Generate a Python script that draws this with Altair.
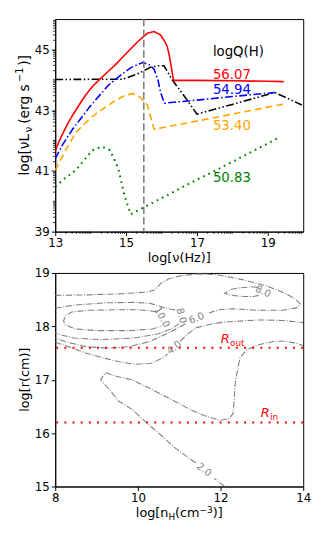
import altair as alt
import pandas as pd
import numpy as np

FONT = "DejaVu Sans"

# ---------------- top panel: SEDs ----------------
red_x = [13.0, 13.1, 13.2, 13.35, 13.5, 13.7, 13.86, 14.05, 14.27, 14.5, 14.7, 14.9, 15.1, 15.3, 15.42, 15.6, 15.79, 15.97, 16.1, 16.16, 16.22, 16.28, 16.34, 17.0, 18.0, 19.0, 19.45]
red_y = [41.65, 41.95, 42.2, 42.55, 42.85, 43.22, 43.5, 43.78, 44.03, 44.28, 44.5, 44.74, 44.98, 45.22, 45.35, 45.53, 45.59, 45.48, 45.25, 45.1, 44.8, 44.4, 43.98, 43.98, 43.97, 43.95, 43.94]

blue_x = [13.0, 13.2, 13.49, 14.0, 14.5, 14.9, 15.15, 15.47, 15.65, 15.79, 15.9, 15.97, 16.08, 17.0, 18.0, 19.2]
blue_y = [41.4, 41.85, 42.37, 43.15, 43.82, 44.2, 44.41, 44.57, 44.5, 44.35, 44.0, 43.6, 43.23, 43.33, 43.45, 43.58]

black_x = [13.0, 14.9, 15.3, 15.7, 15.88, 16.07, 16.3, 16.62, 17.0, 18.0, 19.2, 19.96]
black_y = [44.01, 44.02, 44.18, 44.42, 44.46, 44.46, 44.0, 43.5, 42.87, 43.19, 43.58, 43.17]

orange_x = [13.0, 13.3, 13.58, 14.0, 14.5, 14.9, 15.19, 15.4, 15.6, 15.79, 17.0, 18.0, 19.45]
orange_y = [41.02, 41.7, 42.26, 42.75, 43.17, 43.45, 43.55, 43.42, 43.17, 42.37, 42.64, 42.87, 43.2]

green_x = [13.0, 13.3, 13.58, 14.04, 14.32, 14.55, 14.78, 14.96, 15.13, 15.42, 16.0, 16.8, 17.5, 18.5, 19.29]
green_y = [40.48, 40.78, 41.02, 41.67, 41.8, 41.68, 41.08, 40.16, 39.57, 39.75, 40.1, 40.59, 41.0, 41.6, 42.08]

vline_x = [15.5]

q_label_text = ["56.07", "54.94", "53.40", "50.83"]
q_label_color = ["red", "blue", "orange", "green"]
q_label_x = [17.45, 17.45, 17.45, 17.45]
q_label_y = [44.14, 43.66, 42.47, 40.75]
q_head_text = ["logQ(H)"]
q_head_x = [18.17]
q_head_y = [44.9]

top_xticks = [13, 15, 17, 19]
top_yticks = [39, 41, 43, 45]

# ---------------- bottom panel: contours ----------------
c_seg = []
c_x = []
c_y = []

def add_seg(name, xs, ys):
    for a, b in zip(xs, ys):
        c_seg.append(name)
        c_x.append(a)
        c_y.append(b)

add_seg("c6a",
        [8.0, 8.8, 9.6, 10.2, 10.4, 10.55, 10.75, 11.05, 11.45, 11.9, 12.5, 13.1, 13.5, 13.8, 13.93, 13.85, 13.5, 12.9, 12.3, 11.95, 11.72],
        [18.58, 18.59, 18.61, 18.64, 18.68, 18.8, 18.89, 18.95, 18.98, 18.97, 18.88, 18.76, 18.64, 18.52, 18.42, 18.35, 18.3, 18.3, 18.33, 18.31, 18.25])
add_seg("c6b",
        [11.15, 10.8, 10.3, 9.8, 9.3, 8.74, 8.3, 8.0],
        [18.05, 17.9, 17.72, 17.62, 17.59, 17.62, 17.7, 17.78])
add_seg("c8a",
        [8.0, 8.5, 9.2, 9.9, 10.3, 10.55, 10.8, 10.98],
        [18.34, 18.4, 18.44, 18.45, 18.43, 18.37, 18.32, 18.3])
add_seg("c8b",
        [11.0, 10.8, 10.5, 9.9, 9.1, 8.45, 8.0],
        [18.05, 17.95, 17.86, 17.78, 17.75, 17.78, 17.87])
add_seg("c10a",
        [10.45, 10.3, 10.0, 9.5, 8.8, 8.4, 8.25, 8.2, 8.25, 8.5, 9.0, 9.8, 10.35, 10.55],
        [18.27, 18.29, 18.31, 18.31, 18.3, 18.27, 18.2, 18.1, 18.02, 17.95, 17.92, 17.92, 17.95, 18.0])
add_seg("c4a",
        [8.0, 8.4, 8.74, 9.2, 9.53, 9.93, 10.33, 10.6, 10.72],
        [17.7, 17.6, 17.5, 17.4, 17.34, 17.29, 17.31, 17.41, 17.48])
add_seg("c4b",
        [11.02, 11.2, 11.4, 11.8, 12.1, 12.9, 13.5, 14.0],
        [17.72, 17.85, 17.97, 18.05, 18.08, 18.12, 18.11, 18.07])
add_seg("c8s",
        [12.9, 12.75, 12.45, 12.25, 12.1, 12.2, 12.5, 12.8, 12.92],
        [18.73, 18.74, 18.72, 18.69, 18.62, 18.59, 18.56, 18.56, 18.58])
add_seg("c2a",
        [12.1, 11.85],
        [15.0, 15.15])
add_seg("c2b",
        [11.4, 10.92, 10.56, 10.2, 9.85, 9.53, 9.35, 9.1, 9.21, 9.5, 9.85, 10.33, 10.96, 11.24, 11.6, 11.99, 12.19, 12.3, 12.33, 12.35, 12.39, 12.47, 12.63, 12.9, 13.3, 13.55, 13.8, 14.0],
        [15.44, 15.71, 15.96, 16.2, 16.45, 16.6, 16.78, 17.0, 17.13, 17.06, 17.0, 16.82, 16.57, 16.45, 16.33, 16.24, 16.27, 16.36, 16.6, 16.9, 17.1, 17.41, 17.56, 17.65, 17.72, 17.72, 17.69, 17.64])

clabel_text = ["10.0", "8.0", "6.0", "4.0", "8.0", "2.0"]
clabel_x = [10.58, 11.05, 11.42, 10.88, 13.03, 11.6]
clabel_y = [18.17, 18.2, 18.15, 17.6, 18.65, 15.31]
clabel_angle = [62, 75, 340, 322, 25, 37]

hline_y = [17.6, 16.2]
r_label_main = ["R", "R"]
r_label_sub = ["out", "in"]
r_label_x = [12.11, 13.08]
r_label_y = [17.77, 16.38]

bot_xticks = [8, 10, 12, 14]
bot_yticks = [15, 16, 17, 18, 19]

# ---------------- helpers ----------------
W, H1, H2 = 252, 216, 217


def axis(values):
    return alt.Axis(values=values, title=None, grid=False, tickSize=4, tickWidth=1,
                    labelPadding=2, labelFontSize=12, labelFont=FONT, labelColor="black",
                    labelFlush=False, labelOverlap=False, tickColor="black",
                    domainColor="black", domainWidth=1)


def xenc(field, domain, values):
    return alt.X(field, type="quantitative", scale=alt.Scale(domain=domain, nice=False, zero=False), axis=axis(values))


def yenc(field, domain, values):
    return alt.Y(field, type="quantitative", scale=alt.Scale(domain=domain, nice=False, zero=False), axis=axis(values))


TXD, TYD = [13, 20], [39, 46]
BXD, BYD = [8, 14], [15, 19]


def tx(f):
    return xenc(f, TXD, top_xticks)


def ty(f):
    return yenc(f, TYD, top_yticks)


def bx(f):
    return xenc(f, BXD, bot_xticks)


def by(f):
    return yenc(f, BYD, bot_yticks)


def series(xs, ys, color, dash=None, width=1.6):
    df = pd.DataFrame({"x": xs, "y": ys, "i": list(range(len(xs)))})
    kw = dict(color=color, strokeWidth=width, clip=True)
    if dash:
        kw["strokeDash"] = dash
    return alt.Chart(df).mark_line(**kw).encode(x=tx("x"), y=ty("y"), order="i:Q")


def piece(txt, x, y, size, angle=0, align="left", color="black"):
    kw = dict(text=txt, fontSize=size, align=align, baseline="alphabetic", color=color, font=FONT)
    if angle:
        kw["angle"] = angle
    return alt.Chart(alt.Data(values=[{}])).mark_text(**kw).encode(x=alt.value(x), y=alt.value(y))


# ---------------- top chart ----------------
minor_x = [n + np.log10(k) for n in range(13, 20) for k in range(2, 10)] + [14, 16, 18]
minor_y = [n + np.log10(k) for n in range(39, 46) for k in range(2, 10)] + [40, 42, 44]

top_layers = [
    series(green_x, green_y, "green", [1.8, 4.1], 2),
    series(orange_x, orange_y, "orange", [7, 4]),
    series(black_x, black_y, "black", [8, 2.5, 1.5, 2.5, 1.5, 2.5]),
    series(blue_x, blue_y, "blue", [8, 2.5, 1.5, 2.5]),
    series(red_x, red_y, "red"),
    alt.Chart(pd.DataFrame({"x": vline_x})).mark_rule(color="gray", strokeDash=[7.4, 3.2], strokeWidth=1.6).encode(x=tx("x")),
    alt.Chart(pd.DataFrame({"v": minor_x})).mark_rule(color="black", strokeWidth=0.8).encode(x=tx("v"), y=alt.value(H1), y2=alt.value(H1 + 2.3)),
    alt.Chart(pd.DataFrame({"v": minor_y})).mark_rule(color="black", strokeWidth=0.8).encode(y=ty("v"), x=alt.value(0), x2=alt.value(-2.3)),
    alt.Chart(pd.DataFrame({"x": q_label_x, "y": q_label_y, "t": q_label_text, "c": q_label_color})).mark_text(
        align="left", baseline="middle", fontSize=13.5, font=FONT).encode(
        x=tx("x"), y=ty("y"), text="t:N", color=alt.Color("c:N", scale=None)),
    alt.Chart(pd.DataFrame({"x": q_head_x, "y": q_head_y, "t": q_head_text})).mark_text(
        align="center", baseline="middle", fontSize=13.5, font=FONT, color="black").encode(
        x=tx("x"), y=ty("y"), text="t:N"),
    # x title
    piece("log[ν(Hz)]", W / 2, 247, 13, align="center"),
]

# composite y title: log[νL_ν(erg s^-1)]
yt_x = -27
y0 = 159
fs = 14
top_layers += [
    piece("log[νL", yt_x, y0, fs, angle=270),
    piece("ν", yt_x + 3, y0 - 44.0, 10, angle=270),
    piece("(erg s", yt_x, y0 - 52.5, fs, angle=270),
    piece("−1", yt_x - 5.5, y0 - 95.0, 10, angle=270),
    piece(")]", yt_x, y0 - 111.5, fs, angle=270),
]

top = alt.layer(*top_layers).properties(width=W, height=H1)

# ---------------- bottom chart ----------------
cdf = pd.DataFrame({"x": c_x, "y": c_y, "seg": c_seg, "i": list(range(len(c_x)))})
x0 = W / 2 - 44.1
bl = 248.5
bot_layers = [
    alt.Chart(cdf).mark_line(color="gray", strokeDash=[6.4, 1.6, 1, 1.6], strokeWidth=1.1, clip=True).encode(
        x=bx("x"), y=by("y"), detail="seg:N", order="i:Q"),
    alt.Chart(pd.DataFrame({"y": hline_y})).mark_rule(color="red", strokeDash=[2, 6.3], strokeWidth=2).encode(y=by("y")),
    alt.Chart(pd.DataFrame({"x": clabel_x, "y": clabel_y, "t": clabel_text, "a": clabel_angle})).mark_text(
        align="center", baseline="middle", fontSize=10, font=FONT, color="gray").encode(
        x=bx("x"), y=by("y"), text="t:N", angle=alt.Angle("a:Q", scale=None)),
    alt.Chart(pd.DataFrame({"x": r_label_x, "y": r_label_y, "t": r_label_main})).mark_text(
        align="center", baseline="middle", fontSize=13, font=FONT, fontStyle="italic", color="red").encode(
        x=bx("x"), y=by("y"), text="t:N"),
    alt.Chart(pd.DataFrame({"x": r_label_x, "y": r_label_y, "t": r_label_sub})).mark_text(
        align="left", baseline="middle", fontSize=9, font=FONT, color="red", dx=5, dy=4).encode(
        x=bx("x"), y=by("y"), text="t:N"),
    piece("log[r(cm)]", -27, H2 / 2, 13, angle=270, align="center"),
    piece("log[n", x0, bl, 13),
    piece("H", x0 + 33.1, bl + 3, 9),
    piece("(cm", x0 + 39.9, bl, 13),
    piece("−3", x0 + 64.8, bl - 5, 9),
    piece(")]", x0 + 78.1, bl, 13),
]
bottom = alt.layer(*bot_layers).properties(width=W, height=H2)

chart = alt.vconcat(top, bottom, spacing=42, bounds="flush").properties(
    padding={"left": 7, "top": 5, "right": 5, "bottom": 5}
).configure(font=FONT).configure_view(stroke="black", strokeWidth=1)

chart.save("out.html", embed_options={"renderer": "svg", "actions": False})
